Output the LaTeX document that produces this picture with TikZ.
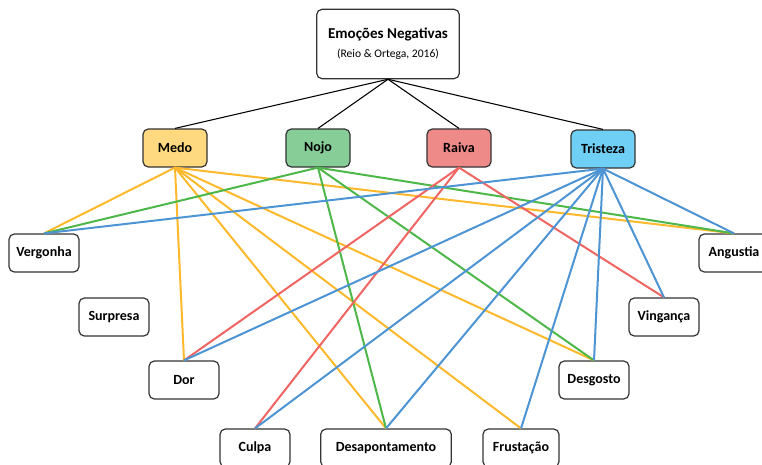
\documentclass[tikz,border=0pt]{standalone}
\usepackage{fontspec}
\setmainfont{Carlito}

\definecolor{medofill}{HTML}{FFD97F}
\definecolor{nojofill}{HTML}{86CD98}
\definecolor{raivafill}{HTML}{EE8A87}
\definecolor{tristfill}{HTML}{70CFF5}
\definecolor{medoline}{HTML}{FDB92B}
\definecolor{nojoline}{HTML}{4DB74A}
\definecolor{raivaline}{HTML}{EF6562}
\definecolor{tristline}{HTML}{4C94D3}

\begin{document}
\begin{tikzpicture}[x=0.75pt,y=-0.75pt,
        box/.style={draw=black!80,line width=0.9pt,rounded corners=4pt,fill=white,
            minimum width=52.5pt,minimum height=28.5pt,inner sep=2pt,font=\fontsize{10.5}{12}\selectfont\bfseries},
        emo/.style={box,minimum width=48pt},
        lig/.style={line width=1.5pt}]

    \useasboundingbox (0,0) rectangle (762,464);
    \clip (0,0) rectangle (762,464);

    \node [box,minimum width=107pt,minimum height=52pt,align=center] (topo) at (388,44)
        {{\fontsize{11.3}{14}\selectfont Emoções Negativas}\\[2pt]{\fontsize{8.7}{10}\selectfont\mdseries (Reio \& Ortega, 2016)}};

    \node [emo,fill=medofill]  (medo)     at (175,148) {Medo};
    \node [emo,fill=nojofill]  (nojo)     at (318,148) {Nojo};
    \node [emo,fill=raivafill] (raiva)    at (459,148) {Raiva};
    \node [emo,fill=tristfill] (tristeza) at (603,149) {Tristeza};

    \node [box] (vergonha)  at (44,253)  {Vergonha};
    \node [box] (surpresa)  at (114,317) {Surpresa};
    \node [box] (dor)       at (184,380) {Dor};
    \node [box] (angustia)  at (734,253) {Angustia};
    \node [box] (vinganca)  at (664,317) {Vingança};
    \node [box] (desgosto)  at (594,380) {Desgosto};
    \node [box] (culpa)     at (255,448) {Culpa};
    \node [box,minimum width=98pt] (desapontamento) at (386,448) {Desapontamento};
    \node [box,minimum width=57pt] (frustacao)      at (521,448) {Frustação};

    \foreach \e in {medo,nojo,raiva,tristeza}{%
        \draw [line width=0.8pt] (topo.south) -- (\e.north);
    }

    \foreach \f in {vergonha,dor,desapontamento,frustacao,desgosto,angustia}{%
        \draw [lig,medoline] (medo.south) -- (\f.north);
    }
    \foreach \f in {vergonha,desapontamento,desgosto,angustia}{%
        \draw [lig,nojoline] (nojo.south) -- (\f.north);
    }
    \foreach \f in {dor,culpa,vinganca}{%
        \draw [lig,raivaline] (raiva.south) -- (\f.north);
    }
    \foreach \f in {vergonha,dor,culpa,desapontamento,frustacao,desgosto,vinganca,angustia}{%
        \draw [lig,tristline] (tristeza.south) -- (\f.north);
    }

\end{tikzpicture}
\end{document}
